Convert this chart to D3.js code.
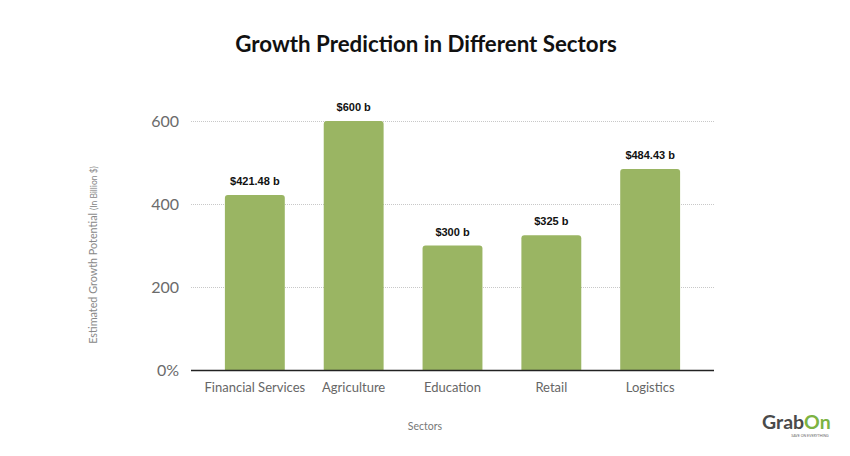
<!DOCTYPE html>
<html><head><meta charset="utf-8">
<script src="https://cdn.jsdelivr.net/npm/d3@7"></script>
<style>body{margin:0;background:#fff}</style>
</head><body>
<svg id="c" width="850" height="456"></svg>
<script>
const categories = ["Financial Services","Agriculture","Education","Retail","Logistics"];
const values = [421.48, 600, 300, 325, 484.43];
const valueLabels = ["$421.48 b","$600 b","$300 b","$325 b","$484.43 b"];
const yTicks = [0, 200, 400, 600];
const yTickLabels = ["0%","200","400","600"];

(function(){
const svg = d3.select("#c");
const mLeft = 191, mRight = 714, mTop = 121, mBottom = 370;
const x = d3.scaleBand().domain(categories).range([mLeft, mRight]).paddingInner(0.394).paddingOuter(0.343);
const y = d3.scaleLinear().domain([0, 600]).range([mBottom, mTop]);

svg.append("text").attr("x", 426).attr("y", 52).attr("text-anchor","middle")
  .attr("font-family","Lato").attr("font-weight","bold").attr("font-size",22.3).attr("fill","#111")
  .text("Growth Prediction in Different Sectors");

// gridlines
svg.append("g").selectAll("line").data(yTicks.filter(d=>d>0)).join("line")
  .attr("x1", mLeft).attr("x2", mRight).attr("y1", d=>y(d)+0.5).attr("y2", d=>y(d)+0.5)
  .attr("stroke","#c8c8c8").attr("stroke-width",1).attr("stroke-dasharray","1,1");

// y tick labels
svg.append("g").selectAll("text").data(yTicks).join("text")
  .attr("x", 179).attr("y", d=>y(d)+6).attr("text-anchor","end")
  .attr("font-family","Lato").attr("font-size",16).attr("fill","#6b6b6b")
  .text((d,i)=>yTickLabels[i]);

// bars with rounded top corners
const r = 3;
svg.append("g").selectAll("path").data(values).join("path")
  .attr("fill","#9ab563")
  .attr("d",(d,i)=>{
    const x0 = x(categories[i]), w = x.bandwidth(), y0 = y(d), y1 = y(0);
    return `M${x0},${y1}V${y0+r}Q${x0},${y0} ${x0+r},${y0}H${x0+w-r}Q${x0+w},${y0} ${x0+w},${y0+r}V${y1}Z`;
  });

// value labels
svg.append("g").selectAll("text").data(values).join("text")
  .attr("x",(d,i)=>x(categories[i])+x.bandwidth()/2).attr("y", d=>y(d)-10)
  .attr("text-anchor","middle").attr("font-family","Liberation Sans, Arial").attr("font-weight","bold")
  .attr("font-size",11).attr("fill","#111")
  .text((d,i)=>valueLabels[i]);

// x axis line
svg.append("line").attr("x1",mLeft).attr("x2",mRight).attr("y1",y(0)+0.5).attr("y2",y(0)+0.5)
  .attr("stroke","#222").attr("stroke-width",1.3);

// category labels
svg.append("g").selectAll("text").data(categories).join("text")
  .attr("x", d=>x(d)+x.bandwidth()/2).attr("y", 392)
  .attr("text-anchor","middle").attr("font-family","Lato").attr("font-size",13).attr("fill","#666")
  .text(d=>d);

// axis titles
svg.append("text").attr("x",425).attr("y",430).attr("text-anchor","middle")
  .attr("font-family","Lato").attr("font-size",10.5).attr("fill","#777").text("Sectors");

const yt = svg.append("text").attr("transform","translate(97,255) rotate(-90)").attr("text-anchor","middle")
  .attr("font-family","Lato").attr("font-size",10.8).attr("fill","#888");
yt.append("tspan").text("Estimated Growth Potential ");
yt.append("tspan").attr("font-size",8.5).text("(In Billion $)");

// logo
const lg = svg.append("text").attr("x",762).attr("y",429).attr("font-family","Lato").attr("font-weight","bold").attr("font-size",19.5);
lg.append("tspan").attr("fill","#4a4a4a").text("Grab");
lg.append("tspan").attr("fill","#7cb342").text("On");
svg.append("text").attr("x",810).attr("y",437).attr("text-anchor","middle").attr("font-family","Lato")
  .attr("font-size",3.5).attr("fill","#666").text("SAVE ON EVERYTHING");
})();
</script>
</body></html>
